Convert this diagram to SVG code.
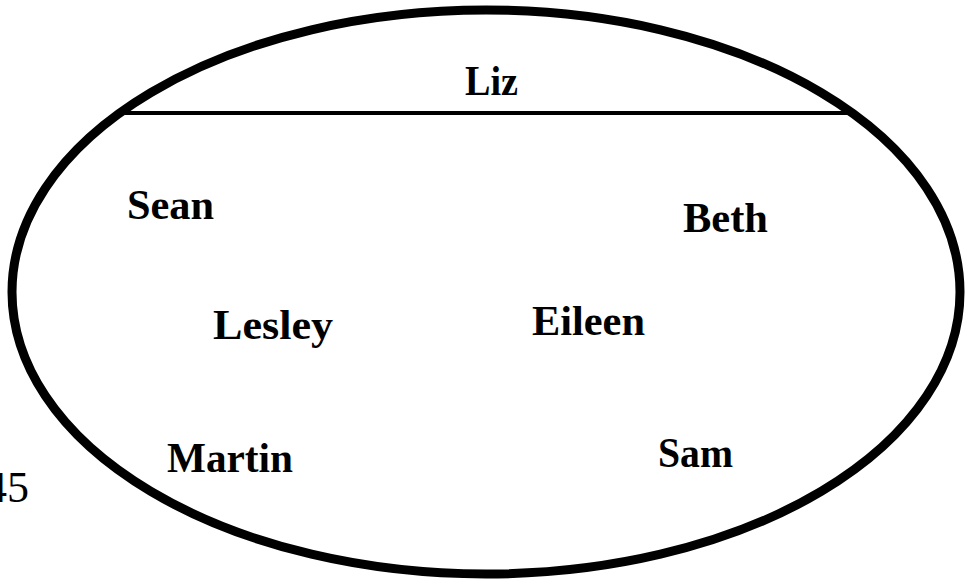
<svg xmlns="http://www.w3.org/2000/svg" width="969" height="582" viewBox="0 0 969 582">
<style>
.n{font-family:"Liberation Serif","Times New Roman",serif;font-weight:bold;font-size:42px;fill:#000}
.p{font-family:"Liberation Serif","Times New Roman",serif;font-size:44px;fill:#000}
</style>
<rect width="969" height="582" fill="#fff"/>
<g id="set">
<ellipse cx="486" cy="292" rx="474" ry="282" fill="none" stroke="#000" stroke-width="9"/>
<line x1="125" y1="113" x2="857" y2="113" stroke="#000" stroke-width="4"/>
</g>
<g id="connectors"></g>
<g id="liz"><text class="n" x="465" y="95" textLength="53" lengthAdjust="spacingAndGlyphs">Liz</text></g>
<g id="sean"><text class="n" x="127" y="219" textLength="87" lengthAdjust="spacingAndGlyphs">Sean</text></g>
<g id="beth"><text class="n" x="683" y="232" textLength="85" lengthAdjust="spacingAndGlyphs">Beth</text></g>
<g id="lesley"><text class="n" x="213" y="339" textLength="120" lengthAdjust="spacingAndGlyphs">Lesley</text></g>
<g id="eileen"><text class="n" x="532" y="335" textLength="113" lengthAdjust="spacingAndGlyphs">Eileen</text></g>
<g id="martin"><text class="n" x="167" y="472" textLength="126" lengthAdjust="spacingAndGlyphs">Martin</text></g>
<g id="sam"><text class="n" x="658" y="467" textLength="75" lengthAdjust="spacingAndGlyphs">Sam</text></g>
<g id="page"><text class="p" x="-15" y="502">45</text></g>
</svg>
